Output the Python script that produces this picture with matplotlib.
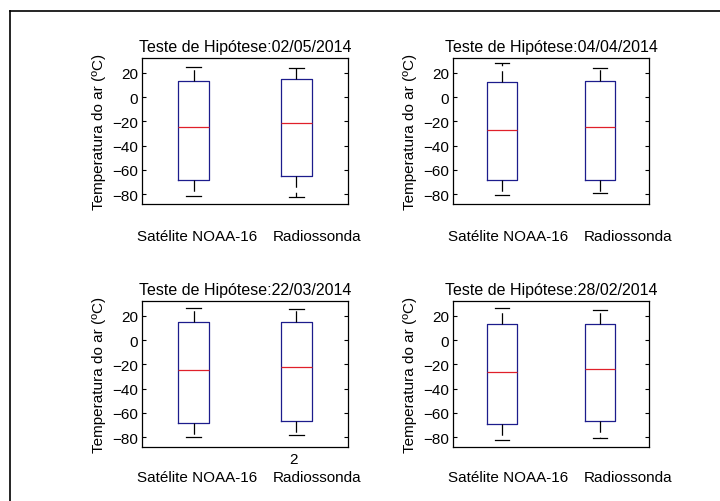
import matplotlib
matplotlib.use("Agg")
import matplotlib.pyplot as plt
from matplotlib.lines import Line2D
from matplotlib.transforms import offset_copy

plt.rcParams['font.family'] = ['Liberation Sans', 'DejaVu Sans']

# datas de cada teste e rótulos das caixas
datas = ["02/05/2014", "04/04/2014", "22/03/2014", "28/02/2014"]
rotulos = ["Satélite NOAA-16", "Radiossonda"]

# estatísticas: [mín, q1, mediana, q3, máx] para satélite e radiossonda
sat_stats = [
    [-81.4, -68.0, -24.7, 13.2, 25.0],
    [-81.1, -68.5, -27.0, 12.0, 27.8],
    [-80.0, -68.6, -25.1, 15.1, 26.8],
    [-82.5, -69.5, -26.5, 13.5, 26.6],
]
rad_stats = [
    [-82.7, -65.0, -21.6, 14.5, 24.1],
    [-79.0, -68.5, -24.3, 13.0, 23.8],
    [-78.1, -66.5, -22.0, 15.1, 25.2],
    [-81.0, -66.5, -24.0, 13.5, 25.0],
]

fig = plt.figure(figsize=(7.2, 5.02), dpi=100)

# posições dos eixos (fração da figura)
pos = [
    [142 / 720, 0.592, 206 / 720, 0.290],
    [453 / 720, 0.592, 196 / 720, 0.290],
    [142 / 720, 0.108, 206 / 720, 0.290],
    [453 / 720, 0.108, 196 / 720, 0.290],
]

def to_dict(s, label):
    return dict(whislo=s[0], q1=s[1], med=s[2], q3=s[3], whishi=s[4], fliers=[], label=label)

fs = 11
for i in range(4):
    ax = fig.add_axes(pos[i])
    stats = [to_dict(sat_stats[i], rotulos[0]), to_dict(rad_stats[i], rotulos[1])]
    ax.bxp(stats, positions=[1, 2], widths=0.3, capwidths=0.15, showfliers=False,
           boxprops=dict(color="#1c1c8c", linewidth=0.9),
           medianprops=dict(color="#e0202a", linewidth=0.9),
           whiskerprops=dict(color="black", linewidth=0.9, linestyle=(0, (9, 4))),
           capprops=dict(color="black", linewidth=0.9))
    ax.set_xlim(0.5, 2.5)
    ax.set_ylim(-88, 32)
    ax.set_yticks([-80, -60, -40, -20, 0, 20])
    ax.set_xticks([])
    ax.tick_params(axis="y", direction="in", length=3, right=True, labelsize=fs, pad=3)
    ax.set_title("Teste de Hipótese:" + datas[i], fontsize=11.5, pad=5)
    ax.set_ylabel("Temperatura do ar (ºC)", fontsize=fs, labelpad=4)
    for sp in ax.spines.values():
        sp.set_linewidth(0.9)

    # rótulos das caixas abaixo do eixo (deslocamento em pixels)
    dy = -32 if i < 2 else -30
    ax.text(0, 0, rotulos[0], transform=offset_copy(ax.transAxes, fig=fig, x=-5, y=dy, units="dots"),
            ha="left", va="center", fontsize=fs)
    ax.text(0, 0, rotulos[1], transform=offset_copy(ax.transAxes, fig=fig, x=131, y=dy, units="dots"),
            ha="left", va="center", fontsize=fs)
    if i == 2:
        # rótulo "2" que aparece sob a segunda caixa
        ax.text(2, 0, "2", transform=offset_copy(ax.get_xaxis_transform(), fig=fig, x=-3, y=-12, units="dots"),
                ha="center", va="center", fontsize=fs)

# moldura da figura (lados esquerdo e superior)
fig.add_artist(Line2D([10 / 720, 10 / 720], [0, 1 - 12 / 502], transform=fig.transFigure, color="black", linewidth=1.2))
fig.add_artist(Line2D([10 / 720, 1], [1 - 12 / 502, 1 - 12 / 502], transform=fig.transFigure, color="black", linewidth=1.2))

fig.savefig("out.png", dpi=100)
